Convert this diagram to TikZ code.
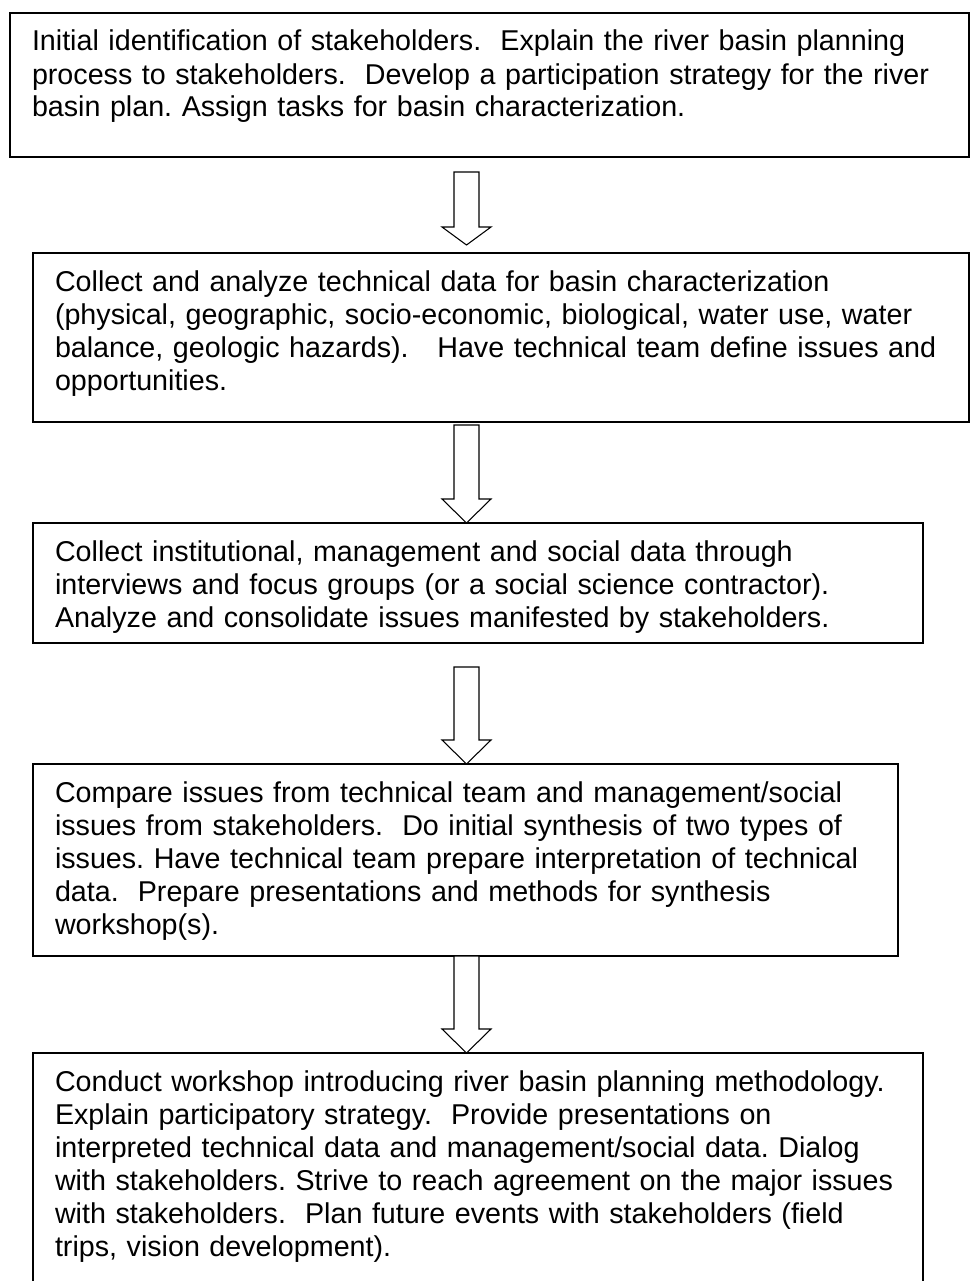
\documentclass[tikz,border=0pt]{standalone}
\usepackage{fontspec}
\setmainfont{Liberation Sans}
\usetikzlibrary{calc, positioning}
\hyphenpenalty=10000

% hollow block arrow from shaft top #1 to tip #2, head length #3
\newcommand{\blockarrow}[3]{%
  \draw[hollow] ($(#1)+(-12.5,0)$) -- ($(#2)+(-12.5,-#3)$) -- ($(#2)+(-24.5,-#3)$) -- (#2)
    -- ($(#2)+(24.5,-#3)$) -- ($(#2)+(12.5,-#3)$) -- ($(#1)+(12.5,0)$) -- cycle;}

\begin{document}
\begin{tikzpicture}[x=0.75pt, y=-0.75pt,
    stage/.style={draw, rectangle, line width=1.3pt, anchor=north west, align=left,
      inner xsep=16.5pt, inner ysep=0pt, outer sep=0pt, text height=28.5pt,
      font=\fontsize{21.5pt}{24.75pt}\selectfont\frenchspacing},
    hollow/.style={line width=0.8pt, fill=white, line join=miter}]

    \fill[white] (0,0) rectangle (970,1281);
    \useasboundingbox (0,0) rectangle (970,1281);
    \clip (0,0) rectangle (970,1281);

    \node[stage, text width=686.25pt, text depth=79.5pt] (stake) at (10,13)
      {Initial identification of stakeholders.\ \ Explain the river basin planning\\
       process to stakeholders.\ \ Develop a participation strategy for the river\\
       basin plan. Assign tasks for basin characterization.};
    \node[stage, text width=669pt, text depth=98.25pt] (tech) at (33,253)
      {Collect and analyze technical data for basin characterization\\
       (physical, geographic, socio-economic, biological, water use, water\\
       balance, geologic hazards).\ \ \ Have technical team define issues and\\
       opportunities.};
    \node[stage, text width=634.5pt, text depth=61.5pt] (social) at (33,523)
      {Collect institutional, management and social data through\\
       interviews and focus groups (or a social science contractor).\\
       Analyze and consolidate issues manifested by stakeholders.};
    \node[stage, text width=615.75pt, text depth=115.5pt] (compare) at (33,764)
      {Compare issues from technical team and management/social\\
       issues from stakeholders.\ \ Do initial synthesis of two types of\\
       issues. Have technical team prepare interpretation of technical\\
       data.\ \ Prepare presentations and methods for synthesis\\
       workshop(s).};
    \node[stage, text width=634.5pt, text depth=198.75pt] (workshop) at (33,1053)
      {Conduct workshop introducing river basin planning methodology.\\
       Explain participatory strategy.\ \ Provide presentations on\\
       interpreted technical data and management/social data. Dialog\\
       with stakeholders. Strive to reach agreement on the major issues\\
       with stakeholders.\ \ Plan future events with stakeholders (field\\
       trips, vision development).};

    % arrows run down a common axis
    \coordinate (axis) at (466.5,0);
    \coordinate (a1top) at ($(stake.south -| axis)+(0,15)$);
    \coordinate (a1tip) at ($(tech.north -| axis)+(0,-8)$);
    \coordinate (a2top) at ($(tech.south -| axis)+(0,3)$);
    \coordinate (a2tip) at (social.north -| axis);
    \coordinate (a3top) at ($(social.south -| axis)+(0,24)$);
    \coordinate (a3tip) at (compare.north -| axis);
    \coordinate (a4top) at (compare.south -| axis);
    \coordinate (a4tip) at (workshop.north -| axis);

    \blockarrow{a1top}{a1tip}{18}
    \blockarrow{a2top}{a2tip}{24}
    \blockarrow{a3top}{a3tip}{24}
    \blockarrow{a4top}{a4tip}{24}
\end{tikzpicture}
\end{document}
